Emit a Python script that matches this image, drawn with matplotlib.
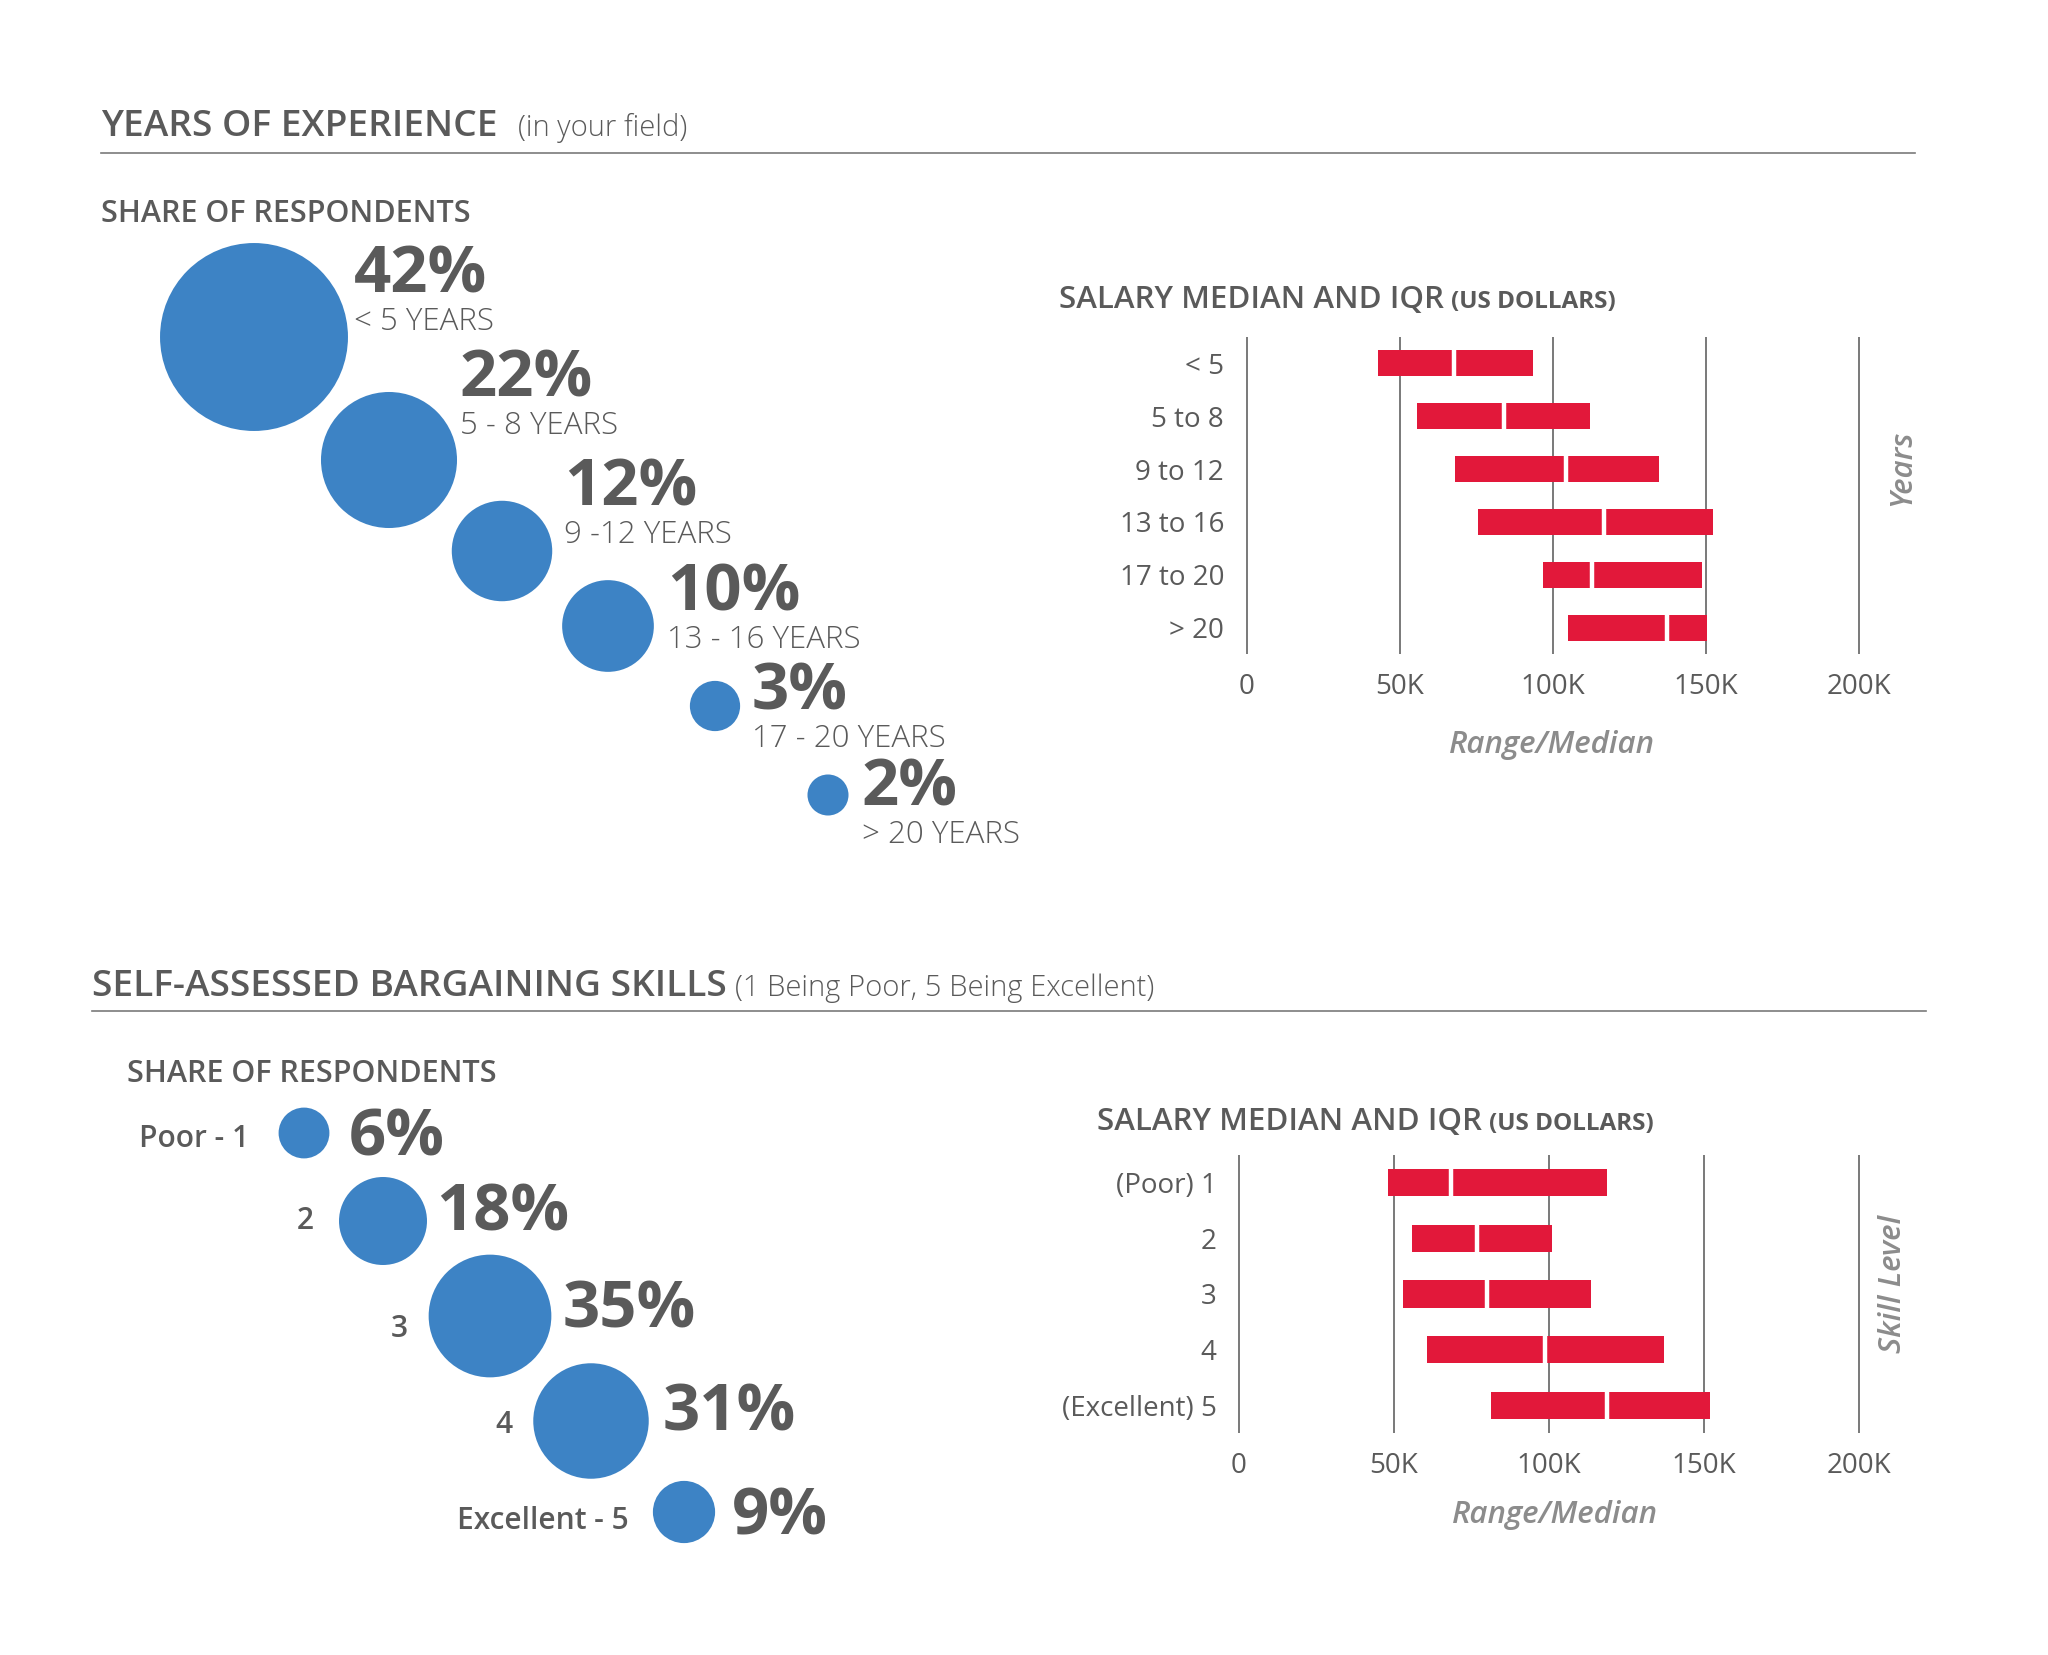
import numpy as np
import matplotlib
matplotlib.use("Agg")
import matplotlib.pyplot as plt
from matplotlib.patches import Circle

plt.rcParams['font.family'] = ['Open Sans', 'DejaVu Sans']

# ---- data ----
exp_share = [42, 22, 12, 10, 3, 2]
exp_share_labels = ['< 5 YEARS', '5 - 8 YEARS', '9 -12 YEARS', '13 - 16 YEARS',
                    '17 - 20 YEARS', '> 20 YEARS']
exp_groups = ['< 5', '5 to 8', '9 to 12', '13 to 16', '17 to 20', '> 20']
exp_low = [42.7, 55.6, 67.9, 75.4, 96.7, 105.0]      # thousands USD
exp_median = [67.5, 84.1, 104.3, 116.8, 112.6, 137.4]
exp_high = [93.5, 112.1, 134.8, 152.3, 148.7, 150.4]

skill_share = [6, 18, 35, 31, 9]
skill_share_labels = ['Poor - 1', '2', '3', '4', 'Excellent - 5']
skill_groups = ['(Poor) 1', '2', '3', '4', '(Excellent) 5']
skill_low = [48.1, 55.9, 53.0, 60.9, 81.5]
skill_median = [68.6, 77.0, 80.2, 98.8, 118.9]
skill_high = [118.7, 101.2, 113.6, 137.0, 152.1]

salary_ticks = [0, 50, 100, 150, 200]
salary_tick_labels = ['0', '50K', '100K', '150K', '200K']

# ---- layout (pixels, origin top-left) ----
W, H = 2048, 1655
exp_centers = [(254, 337), (389, 460), (502, 551), (608, 626), (715, 706), (828, 795)]
exp_pct_xy = [(354, 269), (460, 373), (564, 482), (667, 587), (752, 686), (862, 782)]
skill_centers = [(304, 1133), (383, 1221), (490, 1316), (591, 1421), (684, 1512)]
skill_pct_xy = [(349, 1132), (436, 1207), (563, 1304), (663, 1407), (732, 1511)]
skill_name_xy = [(249, 1136), (314, 1218), (408, 1326), (512, 1422), (629, 1518)]
EXP_K = 14.5      # radius px per sqrt(percent)
SKILL_K = 10.37

TEXT = '#5a5a5a'
SOFT = '#8c8c8c'
GRID = '#555555'
RULE = '#7a7a7a'
BLUE = '#3d83c5'
RED = '#e2183a'

PT = 100 / 72.0   # px per point at dpi 100
CAP = 0.714       # cap height / em for Open Sans


def base(y_center, size):
    return y_center + size * PT * CAP / 2


fig = plt.figure(figsize=(W / 100, H / 100), dpi=100, facecolor='white')
ax0 = fig.add_axes([0, 0, 1, 1])
ax0.set_xlim(0, W)
ax0.set_ylim(H, 0)
ax0.axis('off')


def title_with_note(x, yc, main, note, size, note_size, weight, note_weight, gap):
    t = ax0.text(x, base(yc, size), main, fontsize=size, fontweight=weight,
                 color=TEXT, va='baseline', ha='left')
    fig.canvas.draw()
    bb = t.get_window_extent()
    x1 = ax0.transData.inverted().transform((bb.x1, bb.y0))[0]
    ax0.text(x1 + gap, base(yc, size), note, fontsize=note_size, fontweight=note_weight,
             color=TEXT, va='baseline', ha='left')


# section headers
title_with_note(101, 123, 'YEARS OF EXPERIENCE', '(in your field)', 26.7, 21,
                'semibold', 'light', 20)
ax0.plot([101, 1915], [153, 153], color=RULE, lw=1.2)
title_with_note(92, 983, 'SELF-ASSESSED BARGAINING SKILLS', '(1 Being Poor, 5 Being Excellent)',
                26.7, 21, 'semibold', 'light', 8)
ax0.plot([92, 1926], [1011, 1011], color=RULE, lw=1.2)

ax0.text(101, base(211, 22), 'SHARE OF RESPONDENTS', fontsize=22, fontweight='semibold',
         color=TEXT, va='baseline')
ax0.text(127, base(1071, 22), 'SHARE OF RESPONDENTS', fontsize=22, fontweight='semibold',
         color=TEXT, va='baseline')

# bubbles: years of experience
for (cx, cy), p, (tx, ty), lab in zip(exp_centers, exp_share, exp_pct_xy, exp_share_labels):
    ax0.add_patch(Circle((cx, cy), EXP_K * np.sqrt(p), color=BLUE, lw=0))
    ax0.text(tx, base(ty, 47), f'{p}%', fontsize=47, fontweight='bold', color=TEXT,
             va='baseline', ha='left')
    ax0.text(tx, base(ty + 50, 22.5), lab, fontsize=22.5, fontweight='light', color=TEXT,
             va='baseline', ha='left')

# bubbles: bargaining skills
for (cx, cy), p, (tx, ty), (nx, ny), lab in zip(skill_centers, skill_share, skill_pct_xy,
                                                skill_name_xy, skill_share_labels):
    ax0.add_patch(Circle((cx, cy), SKILL_K * np.sqrt(p), color=BLUE, lw=0))
    ax0.text(tx, base(ty, 47), f'{p}%', fontsize=47, fontweight='bold', color=TEXT,
             va='baseline', ha='left')
    ax0.text(nx, base(ny, 21.5), lab, fontsize=21.5, fontweight='semibold', color=TEXT,
             va='baseline', ha='right')


def salary_axes(zero_px, px_per_k, top_px, bottom_px):
    lo, hi = -5, 205
    x0 = zero_px + lo * px_per_k
    w = (hi - lo) * px_per_k
    ax = fig.add_axes([x0 / W, 1 - bottom_px / H, w / W, (bottom_px - top_px) / H])
    ax.set_xlim(lo, hi)
    ax.set_facecolor('none')
    return ax


def draw_salary(ax, groups, low, med, high, ypad, xpad):
    y = np.arange(len(groups))
    ax.set_ylim(len(groups) - 0.5, -0.5)
    for t in salary_ticks:
        ax.axvline(t, color=GRID, lw=1.1, zorder=0)
    ax.barh(y, np.subtract(med, low), left=low, height=0.49, color=RED, zorder=2)
    ax.barh(y, np.subtract(high, med), left=med, height=0.49, color=RED, zorder=2)
    ax.vlines(med, y - 0.26, y + 0.26, color='white', lw=3.2, zorder=3)
    ax.set_yticks(y, groups)
    ax.set_xticks(salary_ticks, salary_tick_labels)
    ax.tick_params(axis='both', length=0, labelsize=20, labelcolor=TEXT)
    ax.tick_params(axis='y', pad=ypad)
    ax.tick_params(axis='x', pad=xpad)
    for s in ax.spines.values():
        s.set_visible(False)


# salary chart: years
ax1 = salary_axes(1247, 153 / 50, 337, 654)
draw_salary(ax1, exp_groups, exp_low, exp_median, exp_high, 5.5, 13.5)
title_with_note(1059, 297, 'SALARY MEDIAN AND IQR', '(US DOLLARS)', 22.5, 17.5,
                'semibold', 'bold', 7)
ax0.text(1552, base(742, 22.5), 'Range/Median', fontsize=22.5, style='italic',
         fontweight='semibold', color=SOFT, ha='center', va='baseline')
ax0.text(1902, 468, 'Years', fontsize=22.5, style='italic', fontweight='semibold',
         color=SOFT, rotation=90, ha='center', va='center')

# salary chart: skill level
ax2 = salary_axes(1238.5, (1859 - 1238.5) / 200, 1155, 1433)
draw_salary(ax2, skill_groups, skill_low, skill_median, skill_high, 4.5, 14)
title_with_note(1097, 1119, 'SALARY MEDIAN AND IQR', '(US DOLLARS)', 22.5, 17.5,
                'semibold', 'bold', 7)
ax0.text(1555, base(1512, 22.5), 'Range/Median', fontsize=22.5, style='italic',
         fontweight='semibold', color=SOFT, ha='center', va='baseline')
ax0.text(1893, 1284, 'Skill Level', fontsize=22.5, style='italic', fontweight='semibold',
         color=SOFT, rotation=90, ha='center', va='center')

fig.savefig('out.png', dpi=100, facecolor='white')
